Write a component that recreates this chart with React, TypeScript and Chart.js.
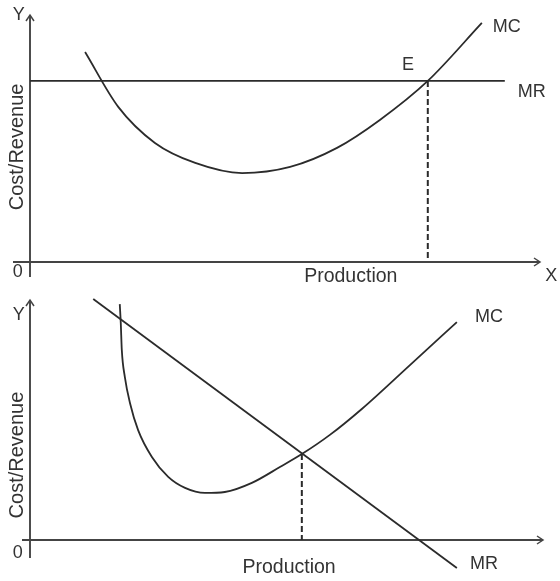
import React, { useEffect, useRef } from "react";
import { Chart, registerables } from "chart.js";

Chart.register(...registerables);

// ---------- Top panel (perfect competition: MR horizontal) ----------
const topMcX = [1.08, 1.73, 2.45, 3.24, 4.16, 5.1, 6.02, 6.86, 7.8, 8.86];
const topMcY = [8.5, 6.28, 4.82, 4.01, 3.6, 3.85, 4.62, 5.75, 7.33, 9.68];
const topMrX = [0, 9.31];
const topMrY = [7.33, 7.33];
const topEqX = [7.8, 7.8];
const topEqY = [7.33, 0.16];

// ---------- Bottom panel (imperfect competition: MR falling) ----------
const botMcX = [1.76, 1.78, 1.8, 1.86, 1.96, 2.12, 2.39, 2.71, 3.04, 3.43, 3.82, 4.35, 4.9, 5.33, 5.88, 6.5, 7.45, 8.37];
const botMcY = [9.83, 9.04, 7.92, 6.79, 5.71, 4.58, 3.46, 2.63, 2.17, 1.96, 2.0, 2.38, 3.04, 3.58, 4.38, 5.45, 7.29, 9.08];
const botMrX = [1.24, 8.37];
const botMrY = [10.04, -1.17];
const botEqX = [5.33, 5.33];
const botEqY = [3.58, 0];

const INK = "#2b2b2b";
const FONT = "'Liberation Sans', Arial, sans-serif";

const pts = (xs: number[], ys: number[]) => xs.map((x, i) => ({ x, y: ys[i] }));

type Label = { text: string; x: number; y: number; size?: number; rotate?: boolean };

const econPlugin = {
  id: "econ",
  beforeDatasetsDraw(chart: any) {
    const o = chart.options.plugins.econ;
    if (!o) return;
    const { ctx, chartArea: a, scales } = chart;
    const x0 = scales.x.getPixelForValue(0);
    const y0 = scales.y.getPixelForValue(0);
    ctx.save();
    ctx.strokeStyle = "#444";
    ctx.lineWidth = 1.9;
    ctx.lineCap = "butt";
    // Y axis
    ctx.beginPath();
    ctx.moveTo(x0, y0 + o.yBelow);
    ctx.lineTo(x0, a.top);
    ctx.stroke();
    ctx.lineWidth = 1.5;
    ctx.beginPath();
    ctx.moveTo(x0 - 4, a.top + 6);
    ctx.lineTo(x0, a.top);
    ctx.lineTo(x0 + 4, a.top + 6);
    ctx.stroke();
    // X axis
    ctx.lineWidth = 1.9;
    const xr = a.right + o.xAfter;
    ctx.beginPath();
    ctx.moveTo(x0 - o.xBefore, y0);
    ctx.lineTo(xr, y0);
    ctx.stroke();
    ctx.lineWidth = 1.5;
    ctx.beginPath();
    ctx.moveTo(xr - 6, y0 - 4);
    ctx.lineTo(xr, y0);
    ctx.lineTo(xr - 6, y0 + 4);
    ctx.stroke();
    ctx.restore();
  },
  afterDatasetsDraw(chart: any) {
    const o = chart.options.plugins.econ;
    if (!o) return;
    const { ctx, scales } = chart;
    ctx.save();
    ctx.fillStyle = "#333";
    ctx.textAlign = "center";
    ctx.textBaseline = "middle";
    (o.labels as Label[]).forEach((l) => {
      const px = scales.x.getPixelForValue(l.x);
      const py = scales.y.getPixelForValue(l.y);
      ctx.font = `${l.size || 18}px ${FONT}`;
      if (l.rotate) {
        ctx.save();
        ctx.translate(px, py);
        ctx.rotate(-Math.PI / 2);
        ctx.fillText(l.text, 0, 0);
        ctx.restore();
      } else {
        ctx.fillText(l.text, px, py);
      }
    });
    ctx.restore();
  },
};

function makeConfig(p: any) {
  const curve = (data: any, extra: any = {}) => ({
    data,
    borderColor: INK,
    borderWidth: 1.8,
    pointRadius: 0,
    fill: false,
    clip: false,
    ...extra,
  });
  return {
    type: "line",
    data: {
      datasets: [
        curve(p.mc, { cubicInterpolationMode: "monotone" }),
        curve(p.mr, { tension: 0 }),
        curve(p.eq, { tension: 0, borderDash: [6, 3], borderWidth: 2 }),
      ],
    },
    options: {
      responsive: false,
      animation: false,
      events: [],
      layout: { padding: p.padding },
      scales: {
        x: { type: "linear", min: 0, max: 10, display: false },
        y: { type: "linear", min: 0, max: 10, display: false },
      },
      plugins: {
        legend: { display: false },
        tooltip: { enabled: false },
        econ: { yBelow: p.yBelow, xBefore: p.xBefore, xAfter: p.xAfter, labels: p.labels },
      },
    },
    plugins: [econPlugin],
  } as any;
}

const topPanel = {
  mc: pts(topMcX, topMcY),
  mr: pts(topMrX, topMrY),
  eq: pts(topEqX, topEqY),
  padding: { left: 30, right: 20, top: 15, bottom: 28 },
  yBelow: 15,
  xBefore: 17,
  xAfter: 0,
  labels: [
    { text: "Y", x: -0.22, y: 10 },
    { text: "0", x: -0.24, y: -0.4 },
    { text: "X", x: 10.22, y: -0.57 },
    { text: "Production", x: 6.29, y: -0.61, size: 19.5 },
    { text: "Cost/Revenue", x: -0.24, y: 4.66, rotate: true, size: 20 },
    { text: "MC", x: 9.35, y: 9.51 },
    { text: "MR", x: 9.84, y: 6.88 },
    { text: "E", x: 7.41, y: 7.98 },
  ],
};

const bottomPanel = {
  mc: pts(botMcX, botMcY),
  mr: pts(botMrX, botMrY),
  eq: pts(botEqX, botEqY),
  padding: { left: 30, right: 20, top: 10, bottom: 41 },
  yBelow: 18,
  xBefore: 8,
  xAfter: 3,
  labels: [
    { text: "Y", x: -0.22, y: 9.38 },
    { text: "0", x: -0.24, y: -0.54 },
    { text: "Production", x: 5.08, y: -1.17, size: 19.5 },
    { text: "Cost/Revenue", x: -0.24, y: 3.54, rotate: true, size: 20 },
    { text: "MC", x: 9.0, y: 9.29 },
    { text: "MR", x: 8.9, y: -1.0 },
  ],
};

function Panel({ panel, top, height }: { panel: any; top: number; height: number }) {
  const ref = useRef<HTMLCanvasElement>(null);
  useEffect(() => {
    const chart = new Chart(ref.current as HTMLCanvasElement, makeConfig(panel));
    return () => chart.destroy();
  }, [panel]);
  return (
    <canvas
      ref={ref}
      width={560}
      height={height}
      style={{ position: "absolute", left: 0, top, width: 560, height, display: "block" }}
    />
  );
}

export default function App() {
  return (
    <div style={{ position: "absolute", left: 0, top: 0, width: 560, height: 581, background: "#fff", overflow: "hidden" }}>
      <Panel panel={topPanel} top={0} height={290} />
      <Panel panel={bottomPanel} top={290} height={291} />
    </div>
  );
}
